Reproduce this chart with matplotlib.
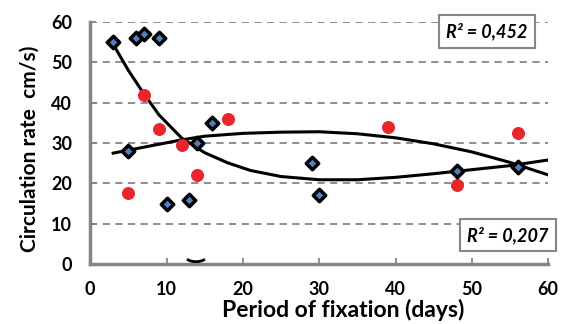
import numpy as np
import matplotlib.pyplot as plt
from matplotlib.patches import Arc

plt.rcParams['font.family'] = ['Lato', 'DejaVu Sans']
plt.rcParams['font.weight'] = 'bold'

# diamonds (blue fill)
blue_x = [3, 5, 6, 7, 9, 10, 13, 14, 16, 29, 30, 48, 56]
blue_y = [55, 28, 56, 57, 56, 15, 16, 30, 35, 25, 17, 23, 24]
# circles (red)
red_x = [5, 7, 9, 12, 14, 18, 39, 48, 56]
red_y = [17.5, 42, 33.5, 29.5, 22, 36, 34, 19.5, 32.5]

# trend lines
trend1_x = [3, 5, 7, 9, 12, 15, 18, 21, 25, 30, 35, 40, 45, 50, 55, 60]
trend1_y = [54.5, 48, 42.3, 37, 31.2, 27.6, 25.1, 23.2, 21.7, 20.9, 20.9, 21.5,
            22.4, 23.4, 24.4, 25.8]
trend2_x = [3, 6, 9, 12, 15, 20, 25, 30, 35, 40, 45, 50, 55, 60]
trend2_y = [27.5, 28.6, 29.7, 30.8, 31.7, 32.4, 32.7, 32.8, 32.3, 31.3,
            29.8, 27.8, 25.2, 22.1]

fig = plt.figure(figsize=(5.64, 3.24), dpi=100)
ax = fig.add_axes([0.16, 0.185, 0.812, 0.747])

ax.set_xlim(0, 60)
ax.set_ylim(0, 60)
ax.set_xticks(np.arange(0, 61, 10))
ax.set_yticks(np.arange(0, 61, 10))
ax.yaxis.grid(True, color='#868686', linestyle=(0, (4, 3)), linewidth=1.3)
ax.set_axisbelow(True)

for s in ['top', 'right']:
    ax.spines[s].set_visible(False)
for s in ['left', 'bottom']:
    ax.spines[s].set_color('#868686')
    ax.spines[s].set_linewidth(2.5)
ax.tick_params(direction='in', length=4, width=1.3, color='#868686',
               labelsize=13)
ax.tick_params(axis='x', pad=12)
ax.tick_params(axis='y', pad=13)

ax.plot(trend1_x, trend1_y, color='black', lw=2.2, zorder=2)
ax.plot(trend2_x, trend2_y, color='black', lw=2.2, zorder=2)

ax.scatter(red_x, red_y, s=70, color='#e8262b', edgecolors='#e8262b', zorder=3)
ax.scatter(blue_x, blue_y, s=40, marker='D', color='#4f81bd',
           edgecolors='black', linewidths=2.5, zorder=4)

ax.add_patch(Arc((13.85, 2.2), 3.0, 3.2, theta1=220, theta2=320,
                 color='black', lw=2, clip_on=False, zorder=5))

box = dict(boxstyle='square,pad=0.4', fc='white', ec='#868686', lw=1.5)
ax.text(0.866, 0.961, 'R² = 0,452', transform=ax.transAxes, ha='center',
        va='center', fontsize=13, style='italic', fontweight='bold', bbox=box)
ax.text(0.912, 0.12, 'R² = 0,207', transform=ax.transAxes, ha='center',
        va='center', fontsize=13, style='italic', fontweight='bold', bbox=box)

ax.set_xlabel('Period of fixation (days)', fontsize=16.5, fontweight='bold')
ax.xaxis.set_label_coords(0.552, -0.145)
ax.set_ylabel('Circulation rate  cm/s)', fontsize=15, fontweight='bold')
ax.yaxis.set_label_coords(-0.11, 0.475)

fig.savefig('out.png', dpi=100)
